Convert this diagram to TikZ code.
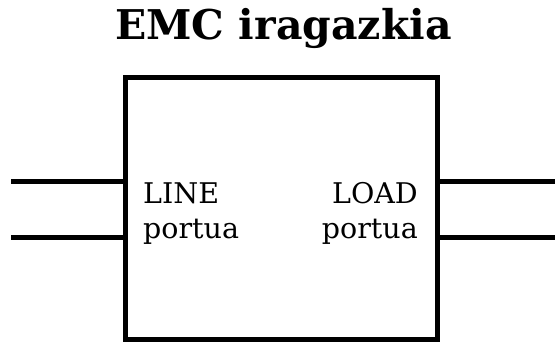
\documentclass[tikz,border=0pt]{standalone}
\usepackage{fontspec}
\setmainfont{DejaVu Serif}
\begin{document}
\begin{tikzpicture}[x=1pt,y=-1pt,
  boxstyle/.style={draw=black, line width=5pt, inner sep=0pt, outer sep=0pt, minimum width=312pt, minimum height=261.5pt},
  wire/.style={draw=black, line width=5pt},
  portlabel/.style={inner sep=0pt, font=\fontsize{28.5}{35}\selectfont},
  titlestyle/.style={inner sep=0pt, font=\bfseries\fontsize{41}{48}\selectfont}]
\useasboundingbox (0,0) rectangle (555,341);
\node[titlestyle, anchor=base] (title) at (283.5,39) {EMC iragazkia};
\node[boxstyle] (box) at (281.5,208.25) {};
\coordinate (l1) at (11,181);
\coordinate (l2) at (11,237.5);
\coordinate (r1) at (555,181);
\coordinate (r2) at (555,237.5);
\draw[wire] (l1) -- (l1 -| box.west);
\draw[wire] (l2) -- (l2 -| box.west);
\draw[wire] (r1) -- (r1 -| box.east);
\draw[wire] (r2) -- (r2 -| box.east);
\node[portlabel, align=left, anchor=base west] (line) at (143,238) {LINE\\portua};
\node[portlabel, align=right, anchor=base east] (load) at (418,238) {LOAD\\portua};
\end{tikzpicture}
\end{document}
